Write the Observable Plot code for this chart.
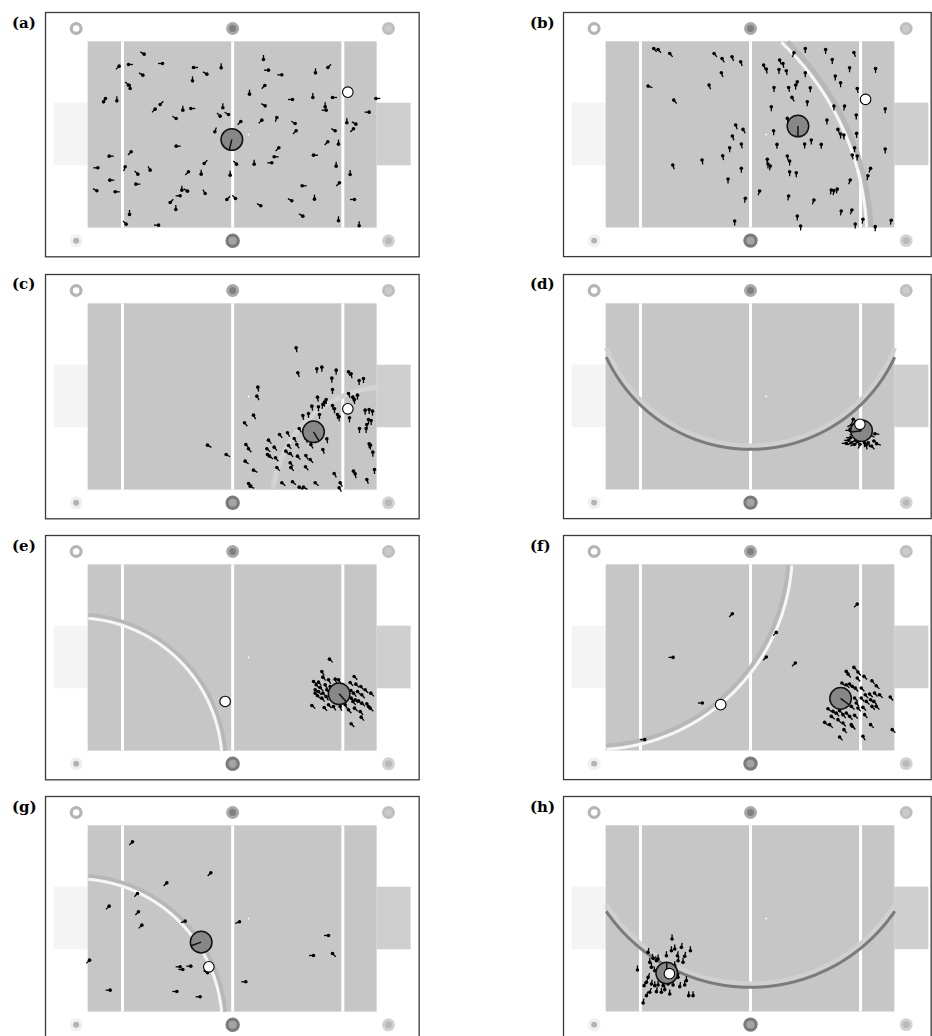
<!DOCTYPE html>
<html><head><meta charset="utf-8">
<script src="https://cdn.jsdelivr.net/npm/d3@7"></script>
<script src="https://cdn.jsdelivr.net/npm/@observablehq/plot@0.6"></script>
<style>
html,body{margin:0;padding:0;background:#fff;overflow:hidden;width:932px;height:1036px;}
#root{position:relative;width:932px;height:1036px;overflow:hidden;}
.panel{position:absolute;}
.panel svg{display:block;}
.lab{position:absolute;font-family:"DejaVu Serif",serif;font-weight:bold;font-size:15px;line-height:15px;color:#000;}
</style></head><body><div id="root"></div><script>
// ---------- layout of the 8 panels ----------
const panelLabels = ["(a)","(b)","(c)","(d)","(e)","(f)","(g)","(h)"];
const panelCol = [0,1,0,1,0,1,0,1];
const panelRow = [0,0,1,1,2,2,3,3];
const rowFieldTop = [41.7, 302.9, 564.0, 825.3];   // page px
const colFieldLeft = [88.0, 606.0];                 // page px
const colFrameRight = [993, 976];                   // arena units (1 unit = 1/3 px)

// ---------- arena (units: 1/3 px, origin at field top-left, y down) ----------
const field = {x1: 0, x2: 867, y1: 0, y2: 559, fill: "#c6c6c6"};
const goals = [
  {x1: -102, x2: 0, y1: 184, y2: 372, fill: "#f4f4f4"},
  {x1: 867, x2: 969, y1: 184, y2: 372, fill: "#cfcfcf"}
];
const lineX = [103, 433.5, 764];
const centerMark = {x: 481, y: 278};
const beacons = [
  {id: "TL", x: -36,   y: -40, ro: 6.5, outer: "#b4b4b4", ri: 3.3, inner: "#ffffff"},
  {id: "TM", x: 433.5, y: -40, ro: 6.5, outer: "#a9a9a9", ri: 3.5, inner: "#808080"},
  {id: "TR", x: 901,   y: -40, ro: 6.5, outer: "#bfbfbf", ri: 3.5, inner: "#cbcbcb"},
  {id: "BL", x: -36,   y: 597, ro: 6.5, outer: "#f0f0f0", ri: 3.0, inner: "#b3b3b3"},
  {id: "BM", x: 433.5, y: 597, ro: 7.2, outer: "#7b7b7b", ri: 4.0, inner: "#a4a4a4"},
  {id: "BR", x: 901,   y: 597, ro: 6.5, outer: "#d2d2d2", ri: 3.5, inner: "#b8b8b8"}
];
// arcs: [beacon centre, radius, stroke, width]
const arcs = [
  [],
  [["BL", 832, "#b7b7b7", 5], ["BL", 819, "#f6f6f6", 3]],
  [["BR", 348, "#d3d3d3", 5]],
  [["TM", 466, "#d0d0d0", 4.5], ["TM", 477, "#7b7b7b", 3]],
  [["BL", 448, "#b7b7b7", 4], ["BL", 438, "#f6f6f6", 3]],
  [["TL", 584, "#b7b7b7", 4], ["TL", 595, "#f6f6f6", 3]],
  [["BL", 448, "#b7b7b7", 4], ["BL", 438, "#f6f6f6", 3]],
  [["TM", 514, "#d0d0d0", 4.5], ["TM", 525, "#7b7b7b", 3]]
];

// ---------- readings: [x, y, heading of tail in degrees, 0 = up] ----------
// positions read in 1/3-px units; fieldTopRead gives the reading of the field's top edge
const fieldLeftRead = 264;
const fieldTopRead = [125,125,123,98,120,120,104,120];

const agentsA = [[432,162,300],[357,198,225],[385,193,90],[487,190,270],[580,202,90],[620,222,300],[663,203,0],[428,225,300],[385,255,315],[390,265,0],[316,295,200],[310,305,20],[350,302,0],[465,327,225],[480,313,45],[548,330,0],[572,325,90],[577,242,0],[668,323,0],[660,348,315],[685,343,300],[644,395,20],[528,355,300],[790,178,0],[805,210,270],[845,224,270],[946,218,0],[983,202,45],[794,256,225],[748,282,0],[877,298,270],[938,292,0],[997,292,90],[795,317,300],[975,320,0],[978,330,270],[830,352,200],[785,360,225],[722,364,225],[885,370,300],[888,392,225],[1040,368,0],[1067,372,300],[1060,386,225],[1107,336,270],[1127,295,90],[1005,392,300],[983,425,225],[1015,432,0],[836,443,225],[822,470,90],[815,488,270],[762,492,0],[709,492,315],[940,465,90],[1008,498,0],[1050,523,0],[1018,548,225],[690,525,0],[565,515,225],[612,490,45],[603,522,0],[528,438,90],[393,455,225],[327,468,90],[293,503,270],[375,500,200],[413,522,315],[450,510,330],[329,540,90],[407,552,90],[290,572,300],[345,575,90],[545,570,0],[562,573,300],[540,587,270],[615,580,330],[510,607,45],[527,628,0],[680,598,45],[706,595,315],[782,617,300],[875,602,300],[943,597,0],[906,557,90],[908,648,300],[1015,662,0],[1063,598,270],[1077,677,0],[388,643,0],[378,672,315],[475,675,270]];

const agentsB = [[407,145,140],[420,148,140],[455,160,140],[588,160,140],[612,175,150],[642,170,160],[668,185,160],[610,218,160],[573,255,160],[390,258,110],[467,300,140],[737,195,160],[745,207,170],[785,180,160],[795,190,170],[783,208,180],[805,212,170],[828,158,200],[862,145,180],[923,148,180],[943,178,180],[995,203,180],[1008,157,160],[1073,205,180],[862,218,180],[768,262,180],[812,262,170],[838,245,190],[833,255,180],[877,263,180],[822,292,150],[868,305,180],[952,228,180],[968,248,180],[1018,265,170],[760,320,180],[948,318,180],[980,318,190],[1015,345,180],[927,360,180],[960,388,160],[968,402,180],[978,405,180],[1016,400,180],[1102,326,180],[808,355,170],[767,392,180],[653,375,160],[675,388,150],[643,408,160],[670,432,170],[635,443,180],[614,467,170],[552,480,170],[464,495,160],[670,505,180],[630,537,180],[748,478,180],[750,492,180],[757,498,190],[808,468,170],[815,483,180],[815,515,180],[835,518,180],[860,432,180],[880,420,180],[910,433,180],[777,433,180],[1010,443,180],[1003,465,170],[1018,468,180],[1102,447,180],[1058,505,200],[1050,527,190],[997,540,200],[940,570,190],[948,572,190],[958,567,190],[725,573,200],[682,595,190],[812,588,190],[888,600,200],[970,633,190],[1002,630,200],[1120,661,190],[838,648,180],[848,678,180],[650,663,180],[1035,658,190],[1012,672,180],[1072,680,180]];

const agentsC = [[888,255,170],[893,330,160],[950,318,180],[965,313,180],[1008,322,180],[1045,327,160],[1053,333,170],[995,346,180],[1077,353,180],[1090,347,180],[773,373,170],[997,380,180],[770,400,150],[1045,392,160],[1058,403,170],[1072,397,180],[1063,410,180],[952,403,170],[978,410,180],[973,418,180],[968,425,190],[935,430,170],[955,432,180],[997,428,170],[1003,438,180],[1012,455,180],[1017,462,180],[1048,465,180],[1095,442,180],[1107,440,180],[1117,445,180],[760,457,150],[908,458,170],[925,452,180],[958,455,180],[733,480,140],[897,497,150],[1105,470,180],[1113,473,180],[1100,485,180],[1098,497,180],[1078,497,180],[1107,543,180],[1111,547,180],[1118,568,180],[737,545,140],[622,547,120],[678,575,120],[805,532,140],[838,515,140],[862,510,150],[882,527,150],[890,545,150],[917,527,160],[932,545,150],[968,560,160],[980,528,170],[745,558,140],[800,558,130],[822,553,140],[865,548,140],[857,565,140],[870,572,140],[802,575,130],[808,580,130],[826,585,140],[735,595,130],[760,622,120],[830,614,140],[870,600,140],[892,580,140],[917,578,150],[930,590,140],[872,614,140],[916,612,140],[1002,632,150],[1060,625,160],[1065,633,170],[1100,650,160],[1123,620,180],[745,662,120],[750,670,120],[845,660,130],[877,657,130],[897,673,120],[910,673,120],[945,660,130],[1017,675,150],[1020,660,150]];

const agentsD = [[1006,445,200],[1014,452,220],[1001,462,250],[996,478,270],[1008,488,250],[992,508,270],[1000,515,240],[1014,508,250],[1026,520,200],[1040,515,180],[1058,492,120],[1071,488,100],[1068,510,120],[1076,518,110],[1061,525,140],[1051,515,160],[1005,470,260],[998,500,270],[1045,522,170],[1020,512,230],[985,517,270],[1010,520,250]];

const agentsE = [[988,403,135],[965,440,150],[968,457,140],[1062,455,135],[940,470,130],[955,472,140],[985,465,150],[1005,463,160],[1015,465,150],[1050,473,140],[1067,478,135],[1082,485,140],[948,480,135],[960,488,140],[975,480,150],[945,495,130],[955,500,140],[968,505,135],[980,495,140],[1052,497,135],[1060,505,140],[1072,500,135],[1085,510,140],[1112,505,135],[952,513,130],[965,520,140],[978,515,150],[1053,520,135],[1058,530,140],[1065,525,135],[1075,528,140],[1085,535,135],[1100,537,140],[1105,545,135],[935,542,130],[972,548,140],[985,540,135],[1000,545,150],[1020,545,160],[1035,540,150],[1045,555,140],[1063,550,135],[1080,560,140],[1110,550,135],[1083,577,140],[1053,597,135],[945,505,130],[990,485,140],[1095,495,135]];

const agentsF = [[1018,238,225],[643,267,225],[775,323,225],[465,398,270],[745,397,225],[832,415,225],[553,535,270],[380,645,270],[985,440,135],[990,448,140],[1008,428,135],[1020,442,140],[1038,455,135],[1062,468,140],[1075,483,135],[1018,460,140],[972,475,130],[985,480,135],[995,478,140],[1003,485,135],[1012,490,140],[1030,490,135],[1042,510,140],[1055,508,135],[1070,505,140],[1085,510,135],[1117,517,140],[1058,525,135],[1068,530,140],[1045,530,135],[1030,520,140],[1010,520,135],[1015,535,140],[1000,545,135],[1020,550,140],[1035,548,135],[1062,545,140],[1075,545,135],[930,552,130],[945,560,135],[955,565,140],[965,558,135],[975,570,140],[985,565,135],[995,575,140],[1010,572,135],[940,575,130],[960,585,135],[975,595,140],[1000,600,135],[1040,570,140],[1058,600,135],[920,593,130],[935,600,135],[965,637,140],[1003,605,135],[1035,635,150],[1123,615,135],[978,615,140]];

const agentsG = [[397,152,225],[632,245,225],[500,275,225],[412,307,225],[327,345,225],[415,362,225],[425,402,225],[555,390,250],[718,392,250],[268,507,225],[540,527,270],[548,535,270],[572,525,270],[622,545,300],[985,433,270],[940,493,270],[997,487,135],[737,572,270],[330,597,270],[530,601,270],[600,617,270]];

const agentsH = [[462,460,0],[390,500,10],[460,495,0],[470,490,0],[490,485,10],[517,495,0],[405,518,350],[420,520,0],[445,510,0],[478,510,10],[500,512,10],[395,530,0],[415,525,350],[480,525,10],[495,530,0],[358,553,0],[400,545,0],[410,555,350],[390,575,20],[385,590,20],[400,595,10],[410,600,0],[420,598,0],[435,600,0],[450,595,0],[465,598,0],[485,603,10],[500,598,0],[505,585,0],[378,600,20],[395,620,20],[415,618,10],[430,620,0],[455,625,0],[385,630,20],[375,652,10],[512,630,0],[525,630,0],[440,612,0],[480,575,10],[470,540,0]];

const agentSets = [agentsA, agentsB, agentsC, agentsD, agentsE, agentsF, agentsG, agentsH];
const robots = [[695,418,194],[840,378,180],[940,507,149],[1031,479,263],[1017,507,138],[968,521,127],[603,453,250],[446,562,0]];
const balls  = [[1043,276],[1043,298],[1043,438],[1026,460],[675,530],[608,540],[626,527],[454,564]];

// ---------- drawing ----------
const rad = Math.PI / 180;
const TAIL = 13.5, HEAD = 32;
const root = document.getElementById("root");

function arcPoints(b, r) {
  return d3.range(0, 360.001, 0.2).map(t => {
    const x = b.x + r * Math.cos(t * rad), y = b.y + r * Math.sin(t * rad);
    const ok = x >= field.x1 && x <= field.x2 && y >= field.y1 && y <= field.y2;
    return ok ? {x, y} : {x: NaN, y: NaN};
  });
}

for (let i = 0; i < 8; i++) {
  const col = panelCol[i], row = panelRow[i];
  const conv = a => ({x: a[0] - fieldLeftRead, y: a[1] - fieldTopRead[i], a: a[2]});
  const ag = agentSets[i].map(conv);
  const rb = conv(robots[i]);
  const bl = conv(balls[i]);
  const xMin = -128, xMax = colFrameRight[col], yMin = -88, yMax = 645;
  const W = (xMax - xMin) / 3 + 2, H = (yMax - yMin) / 3 + 2;

  const arcMarks = arcs[i].map(([c, r, stroke, w]) => {
    const b = beacons.find(d => d.id === c);
    return Plot.line(arcPoints(b, r), {x: "x", y: "y", stroke, strokeWidth: w, strokeLinecap: "butt"});
  });
  const beaconMarks = beacons.flatMap(b => [
    Plot.dot([b], {x: "x", y: "y", r: b.ro, fill: b.outer}),
    Plot.dot([b], {x: "x", y: "y", r: b.ri, fill: b.inner})
  ]);

  const chart = Plot.plot({
    width: W, height: H, margin: 1,
    x: {domain: [xMin, xMax], axis: null},
    y: {domain: [yMin, yMax], reverse: true, axis: null},
    style: {background: "white", overflow: "visible"},
    marks: [
      Plot.rect(goals, {x1: "x1", x2: "x2", y1: "y1", y2: "y2", fill: d => d.fill}),
      Plot.rect([field], {x1: "x1", x2: "x2", y1: "y1", y2: "y2", fill: field.fill}),
      Plot.ruleX(lineX, {x: d => d, y1: field.y1, y2: field.y2, stroke: "white", strokeWidth: 3}),
      ...arcMarks,
      ...beaconMarks,
      Plot.dot([centerMark], {x: "x", y: "y", r: 0.9, fill: "white"}),
      Plot.link(ag, {x1: "x", y1: "y",
        x2: d => d.x + TAIL * Math.sin(d.a * rad), y2: d => d.y - TAIL * Math.cos(d.a * rad),
        stroke: "#000", strokeWidth: 1.3}),
      Plot.dot(ag, {x: "x", y: "y", r: 1.8, fill: "#000"}),
      Plot.dot([rb], {x: "x", y: "y", r: 10.8, fill: "#878787", stroke: "#111", strokeWidth: 1.5}),
      Plot.link([rb], {x1: "x", y1: "y",
        x2: d => d.x + HEAD * Math.sin(d.a * rad), y2: d => d.y - HEAD * Math.cos(d.a * rad),
        stroke: "#111", strokeWidth: 1.5}),
      Plot.dot([bl], {x: "x", y: "y", r: 5.3, fill: "white", stroke: "#000", strokeWidth: 1.1}),
      Plot.frame({stroke: "#3a3a3a", strokeWidth: 1.3})
    ]
  });
  const div = document.createElement("div");
  div.className = "panel";
  div.style.left = (colFieldLeft[col] + xMin / 3 - 1) + "px";
  div.style.top = (rowFieldTop[row] + yMin / 3 - 1) + "px";
  div.appendChild(chart);
  root.appendChild(div);

  const lab = document.createElement("div");
  lab.className = "lab";
  lab.textContent = panelLabels[i];
  lab.style.left = (col === 0 ? 12 : 530) + "px";
  lab.style.top = (rowFieldTop[row] - 25.5) + "px";
  root.appendChild(lab);
}
</script></body></html>
